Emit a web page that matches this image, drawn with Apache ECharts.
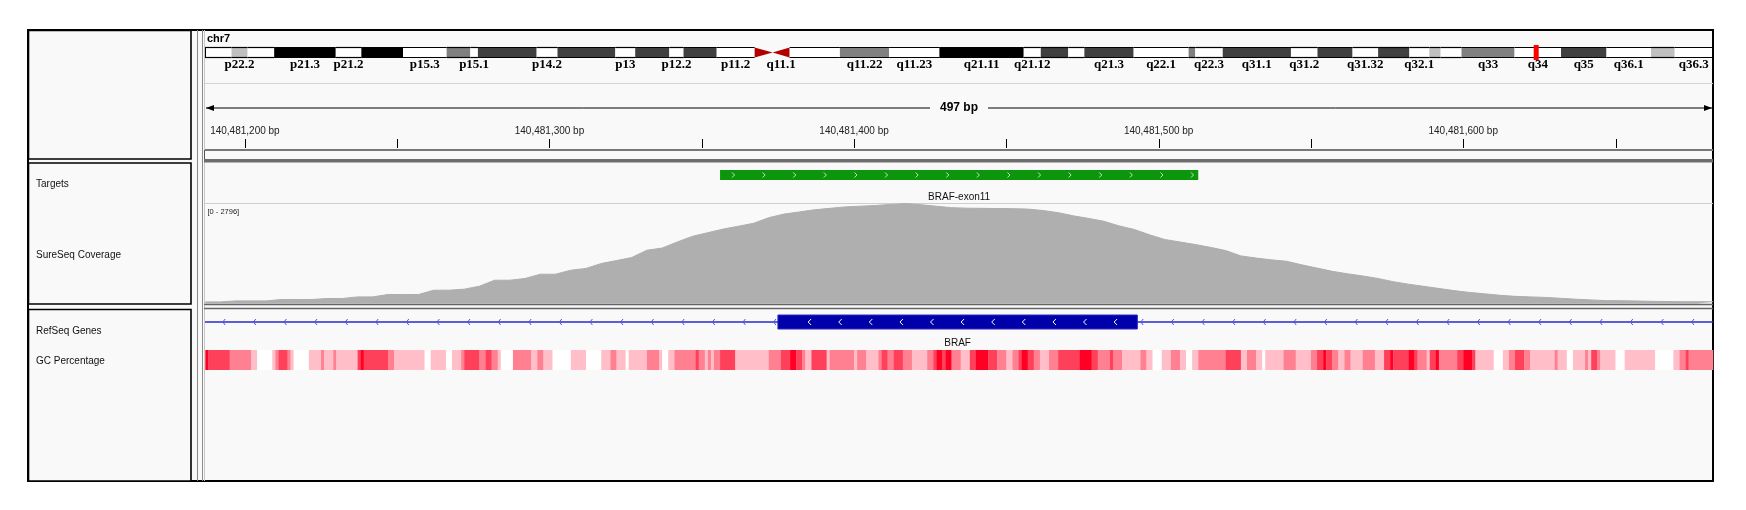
<!DOCTYPE html>
<html><head><meta charset="utf-8">
<script src="https://cdn.jsdelivr.net/npm/echarts@6/dist/echarts.min.js"></script>
<style>html,body{margin:0;padding:0;background:#fff;}#c{width:1746px;height:510px;}</style>
</head><body><div id="c"></div>
<script>
// ---------------- DATA ----------------
const chromName = 'chr7';
const chromLength = 159138663;
const bandNames = ['p22.3','p22.2','p22.1','p21.3','p21.2','p21.1','p15.3','p15.2','p15.1','p14.3','p14.2','p14.1','p13','p12.3','p12.2','p12.1','p11.2','p11.1','q11.1','q11.21','q11.22','q11.23','q21.11','q21.12','q21.13','q21.2','q21.3','q22.1','q22.2','q22.3','q31.1','q31.2','q31.31','q31.32','q31.33','q32.1','q32.2','q32.3','q33','q34','q35','q36.1','q36.2','q36.3'];
const bandStarts = [0,2800000,4500000,7300000,13800000,16500000,20900000,25500000,28000000,28800000,35000000,37200000,43300000,45400000,49000000,50500000,54000000,58000000,59900000,61700000,67000000,72200000,77500000,86400000,88200000,91100000,92800000,98000000,103800000,104500000,107400000,114600000,117400000,121100000,123800000,127100000,129200000,130400000,132600000,138200000,143100000,147900000,152600000,155100000];
const bandStains = ['gneg','gpos25','gneg','gpos100','gneg','gpos100','gneg','gpos50','gneg','gpos75','gneg','gpos75','gneg','gpos75','gneg','gpos75','gneg','acen','acen','gneg','gpos50','gneg','gpos100','gneg','gpos75','gneg','gpos75','gneg','gpos50','gneg','gpos75','gneg','gpos75','gneg','gpos75','gneg','gpos25','gneg','gpos50','gneg','gpos75','gneg','gpos25','gneg'];
const labeledBands = ['p22.2','p21.3','p21.2','p15.3','p15.1','p14.2','p13','p12.2','p11.2','q11.1','q11.22','q11.23','q21.11','q21.12','q21.3','q22.1','q22.3','q31.1','q31.2','q31.32','q32.1','q33','q34','q35','q36.1','q36.3'];

const base = 140481000;
const viewStart = 140481186.9;
const viewEnd = 140481682;
const viewSpanLabel = '497 bp';
const rulerTicks = [140481200,140481250,140481300,140481350,140481400,140481450,140481500,140481550,140481600,140481650];
const rulerLabelTicks = [140481200,140481300,140481400,140481500,140481600];
const rulerLabels = ['140,481,200 bp','140,481,300 bp','140,481,400 bp','140,481,500 bp','140,481,600 bp'];

const trackNames = ['Targets','SureSeq Coverage','RefSeq Genes','GC Percentage'];
const targetName = 'BRAF-exon11';
const targetStart = 140481356, targetEnd = 140481513;
const geneName = 'BRAF';
const exonStart = 140481375, exonEnd = 140481493;

const covMax = 2796;
const covPos = [187,192,197,202,207,212,217,222,227,232,237,242,247,252,257,262,267,272,277,282,287,292,297,302,307,312,317,322,327,332,337,342,347,352,357,362,367,372,377,382,387,392,397,402,407,412,417,422,427,432,437,442,447,452,457,462,467,472,477,482,487,492,497,502,507,512,517,522,527,532,537,542,547,552,557,562,567,572,577,582,587,592,597,602,607,612,617,622,627,632,637,642,647,652,657,662,667,672,677,682];
const covVal = [45,45,73,73,73,112,112,112,140,140,185,185,252,252,252,372,372,400,484,651,651,700,819,819,931,980,1118,1200,1286,1490,1550,1722,1880,1980,2080,2160,2242,2400,2500,2560,2620,2661,2700,2720,2740,2770,2796,2760,2720,2680,2665,2661,2655,2652,2640,2600,2540,2450,2380,2300,2170,2070,1920,1790,1720,1650,1570,1480,1330,1270,1220,1180,1080,990,900,830,770,700,610,540,480,420,360,310,270,230,200,185,170,145,120,100,80,78,70,60,55,50,50,50];

// GC windows: [start offset, end offset, GC %]
const gcSegments = [[187,188,75],[188,195,65],[195,202,55],[202,204,45],[204,209,30],[209,210,45],[210,211,55],[211,214,65],[214,215,55],[215,216,45],[216,221,30],[221,225,45],[225,226,55],[226,229,45],[229,230,55],[230,237,45],[237,238,65],[238,239,75],[239,247,65],[247,249,55],[249,259,45],[259,261,30],[261,266,45],[266,268,30],[268,271,45],[271,272,55],[272,277,65],[277,279,55],[279,281,65],[281,283,55],[283,284,45],[284,288,30],[288,294,55],[294,296,45],[296,298,55],[298,301,45],[301,307,30],[307,312,45],[312,317,30],
[317,320,45],[320,322,55],[322,325,45],[325,326,30],[326,332,45],[332,336,55],[336,337,45],[337,339,30],[339,341,45],[341,348,55],[348,349,65],[349,351,55],[351,352,45],[352,353,55],[353,354,45],[354,356,55],[356,361,65],[361,372,45],[372,376,55],[376,379,65],[379,381,75],[381,383,65],[383,384,55],[384,386,45],[386,391,65],[391,392,45],[392,400,55],[400,401,45],[401,404,55],[404,408,45],[408,409,55],[409,411,65],[411,413,55],[413,416,65],[416,419,55],[419,424,45],[424,426,55],[426,427,65],[427,429,75],[429,430,65],[430,432,75],[432,435,55],[435,438,45],[438,440,65],[440,444,75],[444,447,65],[447,450,55],[450,452,45],[452,454,55],[454,455,65],[455,457,75],[457,459,65],[459,461,55],[461,464,45],[464,467,55],[467,474,65],[474,478,75],[478,480,65],[480,484,55],[484,485,65],[485,488,55],[488,494,45],[494,496,55],[496,498,45],[498,501,30],[501,504,45],[504,507,55],[507,509,45],[509,511,30],
[511,513,45],[513,522,55],[522,527,65],[527,529,45],[529,532,55],[532,534,45],[534,535,30],[535,541,45],[541,545,55],[545,550,45],[550,552,55],[552,554,65],[554,555,75],[555,557,65],[557,559,55],[559,561,45],[561,563,55],[563,567,45],[567,571,55],[571,574,45],[574,576,65],[576,577,75],[577,582,65],[582,584,75],[584,585,65],[585,588,55],[588,589,45],[589,591,65],[591,592,75],[592,598,55],[598,600,65],[600,603,75],[603,604,65],[604,610,45],[610,613,30],[613,615,45],[615,617,55],[617,620,65],[620,622,55],[622,630,45],[630,631,55],[631,634,45],[634,636,30],[636,640,45],[640,641,55],[641,642,45],[642,644,65],[644,645,55],[645,650,45],[650,653,30],[653,663,45],[663,669,30],[669,671,45],[671,673,55],[673,674,65],[674,682,55]];

// ---------------- STYLE ----------------
const BG = '#f9f9f9';
const stainColor = {gneg:'#ffffff', gpos25:'#c0c0c0', gpos50:'#808080', gpos75:'#404040', gpos100:'#000000', acen:'#b00000'};
function gcColor(v){
  if (v >= 72) return '#ff0024';
  if (v >= 62) return '#ff405a';
  if (v >= 52) return '#ff8091';
  if (v >= 40) return '#ffbec8';
  return '#ffffff';
}
const SANS = '"Liberation Sans", Arial, sans-serif';
const L = 205, R = 1746 - 1713;

const chart = echarts.init(document.getElementById('c'));

function xa(i, min, max){ return {gridIndex:i, type:'value', min:min, max:max, show:false}; }
function ya(i, min, max){ return {gridIndex:i, type:'value', min:min, max:max, show:false}; }

const bandData = bandNames.map((n,i)=>[bandStarts[i], i+1<bandNames.length?bandStarts[i+1]:chromLength, i]);

const option = {
  animation:false,
  backgroundColor:'#ffffff',
  grid:[
    {left:L, right:R, top:47.5, height:10},
    {left:L, right:R, top:100, height:49},
    {left:L, right:R, top:170, height:10},
    {left:L, right:R, top:203.5, height:100},
    {left:L, right:R, top:315, height:14},
    {left:L, right:R, top:350, height:20}
  ],
  xAxis:[xa(0,0,chromLength), xa(1,viewStart,viewEnd), xa(2,viewStart,viewEnd), xa(3,viewStart,viewEnd), xa(4,viewStart,viewEnd), xa(5,viewStart,viewEnd)],
  yAxis:[ya(0,0,1), ya(1,0,1), ya(2,0,1), ya(3,0,covMax), ya(4,0,1), ya(5,0,1)],
  graphic:[
    {type:'rect', z:-30, shape:{x:28,y:30,width:1685,height:451}, style:{fill:BG, stroke:'#000', lineWidth:2}},
    {type:'line', z:-20, shape:{x1:197.5,y1:30,x2:197.5,y2:481}, style:{stroke:'#8a8a8a', lineWidth:1}},
    {type:'line', z:-20, shape:{x1:202.5,y1:30,x2:202.5,y2:481}, style:{stroke:'#8a8a8a', lineWidth:1}},
    {type:'line', z:-20, shape:{x1:204.5,y1:30,x2:204.5,y2:481}, style:{stroke:'#c8c8c8', lineWidth:1}},
    {type:'rect', z:-20, shape:{x:28.5,y:30.5,width:162.5,height:128.5}, style:{fill:BG, stroke:'#000', lineWidth:1.6}},
    {type:'rect', z:-20, shape:{x:28.5,y:163,width:162.5,height:141}, style:{fill:BG, stroke:'#000', lineWidth:1.6}},
    {type:'rect', z:-20, shape:{x:28.5,y:309.5,width:162.5,height:171.5}, style:{fill:BG, stroke:'#000', lineWidth:1.6}},
    {type:'line', z:-10, shape:{x1:205,y1:83.5,x2:1713,y2:83.5}, style:{stroke:'#d2d2dc', lineWidth:1}},
    {type:'rect', z:-10, shape:{x:205,y:149,width:1508,height:2}, style:{fill:'#777'}},
    {type:'line', z:-10, shape:{x1:204.5,y1:150,x2:204.5,y2:160}, style:{stroke:'#555', lineWidth:1}},
    {type:'rect', z:-10, shape:{x:204,y:159,width:1509,height:3.5}, style:{fill:'#6e6e6e'}},
    {type:'line', z:-10, shape:{x1:205,y1:203.5,x2:1713,y2:203.5}, style:{stroke:'#cdcdd8', lineWidth:1}},
    {type:'line', z:10, shape:{x1:204,y1:304.5,x2:1713,y2:304.5}, style:{stroke:'#666', lineWidth:1.5}},
    {type:'line', z:10, shape:{x1:204,y1:308.5,x2:1713,y2:308.5}, style:{stroke:'#666', lineWidth:1.5}},
    {type:'text', z:20, style:{text:chromName, x:207, y:39, verticalAlign:'middle', font:'bold 11px '+SANS, fill:'#000'}},
    {type:'text', z:20, style:{text:'[0 - '+covMax+']', x:207.5, y:212, verticalAlign:'middle', font:'7.5px '+SANS, fill:'#222'}},
    {type:'text', z:20, style:{text:trackNames[0], x:36, y:184, verticalAlign:'middle', font:'10px '+SANS, fill:'#111'}},
    {type:'text', z:20, style:{text:trackNames[1], x:36, y:255, verticalAlign:'middle', font:'10px '+SANS, fill:'#111'}},
    {type:'text', z:20, style:{text:trackNames[2], x:36, y:331, verticalAlign:'middle', font:'10px '+SANS, fill:'#111'}},
    {type:'text', z:20, style:{text:trackNames[3], x:36, y:361, verticalAlign:'middle', font:'10px '+SANS, fill:'#111'}}
  ],
  series:[
    { // ideogram
      type:'custom', xAxisIndex:0, yAxisIndex:0, data:bandData, z:5,
      renderItem:function(params, api){
        const i = api.value(2);
        const p0 = api.coord([api.value(0),0]), p1 = api.coord([api.value(1),1]);
        const x0=p0[0], x1=p1[0], yb=p0[1], yt=p1[1];
        const st = bandStains[i], name = bandNames[i];
        const ch = [];
        if (st==='acen'){
          const pts = name[0]==='p' ? [[x0,yt],[x1,(yt+yb)/2],[x0,yb]] : [[x1,yt],[x0,(yt+yb)/2],[x1,yb]];
          ch.push({type:'polygon', shape:{points:pts}, style:{fill:stainColor.acen}});
        } else {
          ch.push({type:'rect', shape:{x:x0,y:yt,width:x1-x0,height:yb-yt}, style:{fill:stainColor[st]}});
          ch.push({type:'line', shape:{x1:x0,y1:yt,x2:x1,y2:yt}, style:{stroke:'#000',lineWidth:1.2}});
          ch.push({type:'line', shape:{x1:x0,y1:yb,x2:x1,y2:yb}, style:{stroke:'#000',lineWidth:1.2}});
          if (i===0) ch.push({type:'line', shape:{x1:x0+0.5,y1:yt,x2:x0+0.5,y2:yb}, style:{stroke:'#000',lineWidth:1}});
          if (i===bandNames.length-1) ch.push({type:'line', shape:{x1:x1-0.5,y1:yt,x2:x1-0.5,y2:yb}, style:{stroke:'#000',lineWidth:1}});
        }
        if (labeledBands.indexOf(name)>=0){
          ch.push({type:'text', style:{text:name, x:(x0+x1)/2, y:yb+7.5, align:'center', verticalAlign:'middle', font:'bold 13px "Liberation Serif", serif', fill:'#000'}});
        }
        return {type:'group', children:ch};
      }
    },
    { // current-position marker on ideogram
      type:'custom', xAxisIndex:0, yAxisIndex:0, data:[[(viewStart+viewEnd)/2]], z:6,
      renderItem:function(params, api){
        const p0 = api.coord([api.value(0),0]), p1 = api.coord([api.value(0),1]);
        return {type:'rect', shape:{x:p0[0]-2.5, y:p1[1]-2.5, width:5, height:p0[1]-p1[1]+5}, style:{fill:'#ff0000'}};
      }
    },
    { // ruler span line
      type:'custom', xAxisIndex:1, yAxisIndex:1, data:[[viewStart, viewEnd]], z:5,
      renderItem:function(params, api){
        const a = api.coord([api.value(0),1]), b = api.coord([api.value(1),1]);
        const y = a[1]+8, x0=a[0]+1, x1=b[0]-1;
        return {type:'group', children:[
          {type:'line', shape:{x1:x0,y1:y,x2:x1,y2:y}, style:{stroke:'#000',lineWidth:1}},
          {type:'polygon', shape:{points:[[x0,y],[x0+8,y-3],[x0+8,y+3]]}, style:{fill:'#000'}},
          {type:'polygon', shape:{points:[[x1,y],[x1-8,y-3],[x1-8,y+3]]}, style:{fill:'#000'}},
          {type:'text', style:{text:viewSpanLabel, x:(x0+x1)/2, y:y, align:'center', verticalAlign:'middle', font:'bold 12px '+SANS, fill:'#000', backgroundColor:BG, padding:[2,10]}}
        ]};
      }
    },
    { // ruler ticks + labels
      type:'custom', xAxisIndex:1, yAxisIndex:1, data:rulerTicks.map(v=>[v]), z:5,
      renderItem:function(params, api){
        const v = api.value(0);
        const p = api.coord([v,0]);
        const x = Math.round(p[0])+0.5;
        const ch = [{type:'line', shape:{x1:x,y1:p[1]-1,x2:x,y2:p[1]-10}, style:{stroke:'#000',lineWidth:1}}];
        const li = rulerLabelTicks.indexOf(v);
        if (li>=0) ch.push({type:'text', style:{text:rulerLabels[li], x:p[0], y:p[1]-18, align:'center', verticalAlign:'middle', font:'10px '+SANS, fill:'#222'}});
        return {type:'group', children:ch};
      }
    },
    { // target
      type:'custom', xAxisIndex:2, yAxisIndex:2, data:[[targetStart, targetEnd]], z:5,
      renderItem:function(params, api){
        const a = api.coord([api.value(0),0]), b = api.coord([api.value(1),1]);
        const x0=a[0], x1=b[0], yb=a[1], yt=b[1], ym=(yt+yb)/2;
        const ch = [{type:'rect', shape:{x:x0,y:yt,width:x1-x0,height:yb-yt}, style:{fill:'#0b960b'}}];
        for (let x=x0+13.5; x<x1-3; x+=30.6){
          ch.push({type:'polyline', shape:{points:[[x-1.5,ym-2.5],[x+1,ym],[x-1.5,ym+2.5]]}, style:{stroke:'#bfe8bf',lineWidth:1,fill:null}});
        }
        ch.push({type:'text', style:{text:targetName, x:(x0+x1)/2, y:yb+17, align:'center', verticalAlign:'middle', font:'10px '+SANS, fill:'#111'}});
        return {type:'group', children:ch};
      }
    },
    { // coverage
      type:'line', xAxisIndex:3, yAxisIndex:3, symbol:'none', z:4,
      data:covPos.map((p,i)=>[base+p, covVal[i]]),
      lineStyle:{color:'#aeaeae', width:1},
      areaStyle:{color:'#afafaf', opacity:1},
      silent:true
    },
    { // gene
      type:'custom', xAxisIndex:4, yAxisIndex:4, data:[[viewStart, viewEnd, exonStart, exonEnd]], z:5,
      renderItem:function(params, api){
        const a = api.coord([api.value(0),0]), b = api.coord([api.value(1),1]);
        const e0 = api.coord([api.value(2),0]), e1 = api.coord([api.value(3),1]);
        const yb=a[1], yt=b[1], ym=(yt+yb)/2;
        const ch = [{type:'line', shape:{x1:a[0],y1:ym,x2:b[0],y2:ym}, style:{stroke:'#2828c8',lineWidth:1.3}}];
        for (let x=a[0]+19; x<b[0]; x+=30.6){
          if (x>e0[0]-2 && x<e1[0]+2) continue;
          ch.push({type:'polyline', shape:{points:[[x+1.2,ym-3],[x-1.2,ym],[x+1.2,ym+3]]}, style:{stroke:'#5050e6',lineWidth:1,fill:null}});
        }
        ch.push({type:'rect', shape:{x:e0[0],y:yt,width:e1[0]-e0[0],height:yb-yt}, style:{fill:'#0000aa', stroke:'#2a2ac0', lineWidth:1}});
        for (let x=e0[0]+31.7; x<e1[0]-4; x+=30.6){
          ch.push({type:'polyline', shape:{points:[[x+1.5,ym-3],[x-1.5,ym],[x+1.5,ym+3]]}, style:{stroke:'#ffffff',lineWidth:1,fill:null}});
        }
        ch.push({type:'text', style:{text:geneName, x:(e0[0]+e1[0])/2, y:yb+14, align:'center', verticalAlign:'middle', font:'10px '+SANS, fill:'#111'}});
        return {type:'group', children:ch};
      }
    },
    { // GC percentage
      type:'custom', xAxisIndex:5, yAxisIndex:5, z:5,
      data:gcSegments.map(s=>[base+s[0], base+s[1], s[2]]),
      renderItem:function(params, api){
        const a = api.coord([api.value(0),0]), b = api.coord([api.value(1),1]);
        return {type:'rect', shape:{x:a[0], y:b[1], width:b[0]-a[0]+0.3, height:a[1]-b[1]}, style:{fill:gcColor(api.value(2))}};
      }
    }
  ]
};
chart.setOption(option);
</script>
</body></html>
